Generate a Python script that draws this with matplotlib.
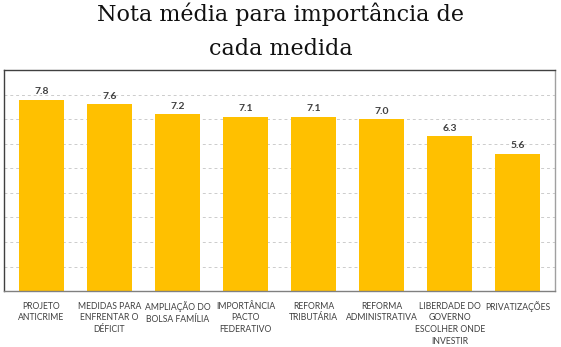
import matplotlib
matplotlib.use("Agg")
import matplotlib.pyplot as plt

categories = [
    "PROJETO\nANTICRIME",
    "MEDIDAS PARA\nENFRENTAR O\nDÉFICIT",
    "AMPLIAÇÃO DO\nBOLSA FAMÍLIA",
    "IMPORTÂNCIA\nPACTO\nFEDERATIVO",
    "REFORMA\nTRIBUTÁRIA",
    "REFORMA\nADMINISTRATIVA",
    "LIBERDADE DO\nGOVERNO\nESCOLHER ONDE\nINVESTIR",
    "PRIVATIZAÇÕES",
]
values = [7.8, 7.6, 7.2, 7.1, 7.1, 7.0, 6.3, 5.6]
title_lines = ["Nota média para importância de", "cada medida"]

fig = plt.figure(figsize=(5.61, 3.47), dpi=100)
ax = fig.add_axes([0.007, 0.161, 0.983, 0.637])

x = range(len(values))
ax.bar(x, values, width=0.66, color="#FFC000", zorder=2)
for xi, v in zip(x, values):
    ax.text(xi, v + 0.14, f"{v:.1f}", ha="center", va="bottom",
            fontsize=7.5, fontweight="bold", color="#404040", family="Lato")

ax.set_xlim(-0.55, len(values) - 0.45)
ax.set_ylim(0, 9)
ax.set_yticks(range(1, 9))
ax.yaxis.grid(True, linestyle=(0, (3, 3)), color="#cccccc", linewidth=0.7, zorder=0)
ax.tick_params(left=False, labelleft=False, bottom=False)
ax.set_xticks(list(x))
ax.set_xticklabels(categories, fontsize=6.2, color="#404040", linespacing=1.38,
                   family="Lato")
ax.tick_params(axis="x", pad=4)
for name, sp in ax.spines.items():
    sp.set_color("#404040")
    sp.set_linewidth(1.0)
ax.spines["right"].set_color("#a0a0a0")
ax.spines["bottom"].set_color("#808080")

# two title lines placed by baseline
fig.text(0.5, 1 - 21 / 347, title_lines[0], ha="center", va="baseline",
         fontsize=16, family="DejaVu Serif", color="#111111")
fig.text(0.5, 1 - 55 / 347, title_lines[1], ha="center", va="baseline",
         fontsize=16, family="DejaVu Serif", color="#111111")

fig.savefig("out.png", dpi=100)
